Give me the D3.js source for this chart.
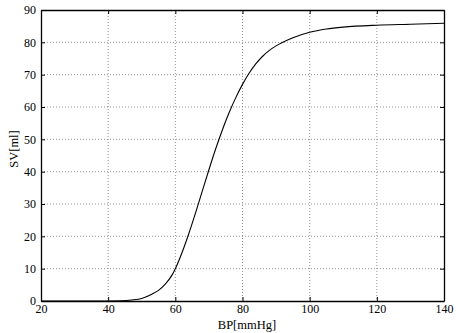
<!DOCTYPE html>
<html>
<head>
<meta charset="utf-8">
<script src="https://cdn.jsdelivr.net/npm/d3@7"></script>
<style>
  body { margin: 0; background: #fff; }
  svg { display: block; }
  text { font-family: "Liberation Serif", "DejaVu Serif", serif; fill: #000; }
</style>
</head>
<body>
<div id="chart"></div>
<script>
// blood pressure [mmHg] vs stroke volume [ml]
const bp = [20, 30, 40, 44, 47, 50, 53, 55, 57, 59, 60, 62, 64, 66, 68, 70, 72, 74, 76, 78,
    80, 82, 84, 86, 88, 90, 92, 95, 100, 105, 110, 120, 130, 140];
const sv = [0, 0, 0, 0.05, 0.3, 0.8, 2.1, 3.3, 5.2, 8, 10, 15, 20.8, 27.2, 33.9, 40.6, 47, 52.9, 58.2, 62.9,
    67, 70.5, 73.4, 75.7, 77.5, 78.9, 80, 81.4, 83.1, 84.1, 84.7, 85.3, 85.6, 85.9];
const xTicks = [20, 40, 60, 80, 100, 120, 140];
const yTicks = [0, 10, 20, 30, 40, 50, 60, 70, 80, 90];

const width = 456;
const height = 333;
const margin = {left: 41, right: 12, top: 10, bottom: 32};
const innerWidth = width - margin.left - margin.right;
const innerHeight = height - margin.top - margin.bottom;

const svg = d3.select('#chart')
    .append('svg')
    .attr('width', width)
    .attr('height', height);
const g = svg.append('g')
    .attr('transform', `translate(${margin.left},${margin.top})`);

const x = d3.scaleLinear().domain([20, 140]).range([0, innerWidth]);
const y = d3.scaleLinear().domain([0, 90]).range([innerHeight, 0]);

// dotted grid
g.append('g')
    .selectAll('line')
    .data(xTicks.slice(1, -1))
    .join('line')
    .attr('x1', d => x(d)).attr('x2', d => x(d))
    .attr('y1', 0).attr('y2', innerHeight)
    .attr('stroke', '#777').attr('stroke-width', 0.8).attr('stroke-dasharray', '1,2');
g.append('g')
    .selectAll('line')
    .data(yTicks.slice(1, -1))
    .join('line')
    .attr('x1', 0).attr('x2', innerWidth)
    .attr('y1', d => y(d)).attr('y2', d => y(d))
    .attr('stroke', '#777').attr('stroke-width', 0.8).attr('stroke-dasharray', '1,2');

// curve
const pts = bp.map((v, i) => [v, sv[i]]);
g.append('path')
    .datum(pts)
    .attr('fill', 'none')
    .attr('stroke', '#000')
    .attr('stroke-width', 1.1)
    .attr('d', d3.line().x(d => x(d[0])).y(d => y(d[1])).curve(d3.curveMonotoneX));

// axes: inward ticks on all four sides
const styleAxis = sel => {
    sel.select('.domain').attr('stroke', '#000').attr('stroke-width', 1.3);
    sel.selectAll('.tick line').attr('stroke', '#000').attr('stroke-width', 1);
    sel.selectAll('text').attr('font-size', 12);
};
g.append('g')
    .attr('transform', `translate(0,${innerHeight})`)
    .call(d3.axisBottom(x).tickValues(xTicks).tickSize(-4).tickSizeOuter(0).tickPadding(3))
    .call(styleAxis);
g.append('g')
    .call(d3.axisLeft(y).tickValues(yTicks).tickSize(-4).tickSizeOuter(0).tickPadding(5))
    .call(styleAxis);
g.append('g')
    .call(d3.axisTop(x).tickValues(xTicks).tickSize(-4).tickSizeOuter(0))
    .call(styleAxis)
    .selectAll('text').remove();
g.append('g')
    .attr('transform', `translate(${innerWidth},0)`)
    .call(d3.axisRight(y).tickValues(yTicks).tickSize(-4).tickSizeOuter(0))
    .call(styleAxis)
    .selectAll('text').remove();

// axis labels
svg.append('text')
    .attr('x', 247)
    .attr('y', height - 4)
    .attr('text-anchor', 'middle')
    .attr('font-size', 12.5)
    .text('BP[mmHg]');
svg.append('text')
    .attr('transform', `translate(18,149) rotate(-90)`)
    .attr('text-anchor', 'middle')
    .attr('font-size', 12.5)
    .text('SV[ml]');
</script>
</body>
</html>
